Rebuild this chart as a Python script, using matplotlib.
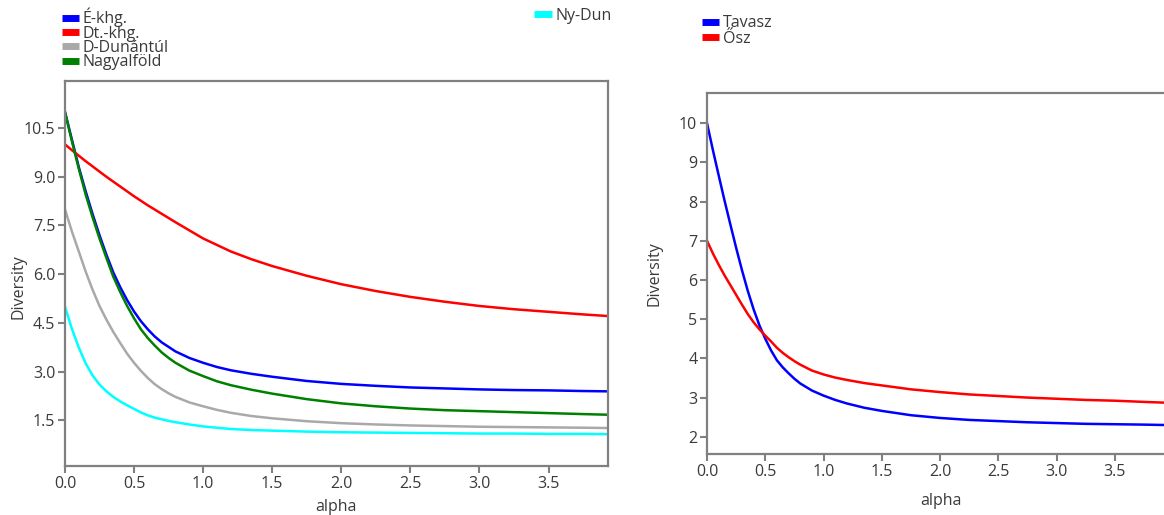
import matplotlib
matplotlib.use("Agg")
import matplotlib.pyplot as plt
from matplotlib.lines import Line2D

plt.rcParams["font.family"] = ["Open Sans", "DejaVu Sans"]

# ---------- data ----------
alpha = [0, 0.05, 0.1, 0.15, 0.2, 0.25, 0.3, 0.35, 0.4, 0.45, 0.5, 0.55, 0.6, 0.65,
         0.7, 0.75, 0.8, 0.9, 1.0, 1.1, 1.2, 1.35, 1.5, 1.75, 2.0, 2.25, 2.5, 2.75,
         3.0, 3.25, 3.5, 3.75, 3.93]

e_khg = [11.0, 10.15, 9.3, 8.55, 7.85, 7.2, 6.6, 6.05, 5.6, 5.2, 4.85, 4.55, 4.3, 4.08,
         3.9, 3.76, 3.62, 3.42, 3.27, 3.14, 3.04, 2.93, 2.84, 2.71, 2.62, 2.56, 2.51, 2.48,
         2.45, 2.43, 2.42, 2.40, 2.39]
dt_khg = [10.0, 9.82, 9.65, 9.48, 9.32, 9.16, 9.0, 8.85, 8.7, 8.55, 8.4, 8.26, 8.12, 7.99,
          7.86, 7.73, 7.6, 7.35, 7.1, 6.9, 6.7, 6.46, 6.25, 5.95, 5.69, 5.48, 5.3, 5.15,
          5.02, 4.92, 4.84, 4.76, 4.71]
d_dunantul = [8.0, 7.32, 6.7, 6.08, 5.52, 5.02, 4.6, 4.22, 3.88, 3.55, 3.27, 3.02, 2.8, 2.61,
              2.46, 2.33, 2.22, 2.05, 1.93, 1.82, 1.73, 1.63, 1.56, 1.47, 1.41, 1.37, 1.34,
              1.32, 1.30, 1.29, 1.28, 1.27, 1.26]
nagyalfold = [11.0, 10.1, 9.25, 8.45, 7.75, 7.1, 6.5, 5.92, 5.45, 5.02, 4.64, 4.3, 4.03, 3.8,
              3.59, 3.42, 3.27, 3.03, 2.86, 2.7, 2.58, 2.44, 2.32, 2.15, 2.02, 1.93, 1.86,
              1.81, 1.78, 1.75, 1.72, 1.69, 1.67]
ny_dun = [5.0, 4.32, 3.74, 3.25, 2.88, 2.6, 2.39, 2.22, 2.08, 1.96, 1.85, 1.74, 1.65, 1.58,
          1.53, 1.48, 1.44, 1.37, 1.31, 1.27, 1.23, 1.2, 1.18, 1.15, 1.13, 1.12, 1.11, 1.10,
          1.09, 1.09, 1.08, 1.08, 1.07]

tavasz = [10.0, 9.32, 8.67, 8.03, 7.42, 6.82, 6.25, 5.72, 5.25, 4.84, 4.5, 4.2, 3.95, 3.77,
          3.62, 3.48, 3.36, 3.18, 3.05, 2.94, 2.85, 2.74, 2.66, 2.55, 2.48, 2.43, 2.40, 2.37,
          2.35, 2.33, 2.32, 2.31, 2.30]
osz = [7.0, 6.68, 6.39, 6.12, 5.87, 5.62, 5.37, 5.13, 4.92, 4.74, 4.58, 4.43, 4.27, 4.14,
       4.03, 3.93, 3.84, 3.69, 3.59, 3.51, 3.45, 3.37, 3.31, 3.21, 3.14, 3.08, 3.04, 3.0,
       2.97, 2.94, 2.92, 2.89, 2.87]

left_series = [("É-khg.", e_khg, "#0000ff"),
               ("Dt.-khg.", dt_khg, "#ff0000"),
               ("D-Dunántúl", d_dunantul, "#a9a9a9"),
               ("Nagyalföld", nagyalfold, "#008000"),
               ("Ny-Dun", ny_dun, "#00ffff")]
right_series = [("Tavasz", tavasz, "#0000ff"),
                ("Ősz", osz, "#ff0000")]

left_yticks = [1.5, 3.0, 4.5, 6.0, 7.5, 9.0, 10.5]
right_yticks = [2, 3, 4, 5, 6, 7, 8, 9, 10]
xticks = [0.0, 0.5, 1.0, 1.5, 2.0, 2.5, 3.0, 3.5]

SPINE = "#808080"
TXT = "#3a3a3a"

fig = plt.figure(figsize=(11.64, 5.15), dpi=100)
ax1 = fig.add_axes([0.0558, 0.0951, 0.4665, 0.7476])
ax2 = fig.add_axes([0.6074, 0.1184, 0.3935, 0.701])


def style(ax, yticks, ylim, yfmt):
    for s in ax.spines.values():
        s.set_color(SPINE)
        s.set_linewidth(1.6)
    ax.set_xlim(0, 3.93)
    ax.set_ylim(*ylim)
    ax.set_xticks(xticks)
    ax.set_xticklabels([f"{v:.1f}" for v in xticks])
    ax.set_yticks(yticks)
    ax.set_yticklabels([yfmt.format(v) for v in yticks])
    ax.tick_params(direction="out", length=5, width=1.5, color=SPINE,
                   labelcolor=TXT, labelsize=11.5, pad=2)
    ax.set_xlabel("alpha", fontsize=11.5, color=TXT)
    ax.set_ylabel("Diversity", fontsize=11.5, color=TXT)


for name, vals, col in left_series:
    ax1.plot(alpha, vals, color=col, lw=1.8, label=name)
style(ax1, left_yticks, (0.09, 11.95), "{:.1f}")
ax1.yaxis.set_label_coords(-0.07, 0.465)
ax1.xaxis.set_label_coords(0.499, -0.085)

for name, vals, col in right_series:
    ax2.plot(alpha, vals, color=col, lw=1.8, label=name)
style(ax2, right_yticks, (1.56, 10.77), "{:d}")
ax2.spines["right"].set_visible(False)
ax2.yaxis.set_label_coords(-0.098, 0.5)
ax2.xaxis.set_label_coords(0.51, -0.108)


def handles(series):
    return [Line2D([], [], color=c, lw=5, solid_capstyle="butt") for _, _, c in series]


leg_kw = dict(frameon=False, fontsize=11.5, handlelength=1.1, handletextpad=0.2,
              borderpad=0, borderaxespad=0, labelcolor=TXT)
h = handles(left_series)
fig.legend(h[:4], [s[0] for s in left_series[:4]], loc="upper left",
           bbox_to_anchor=(0.053, 0.985), labelspacing=-0.1, **leg_kw)
fig.legend(h[4:], [s[0] for s in left_series[4:]], loc="upper left",
           bbox_to_anchor=(0.459, 0.985), labelspacing=-0.1, **leg_kw)
fig.legend(handles(right_series), [s[0] for s in right_series], loc="upper left",
           bbox_to_anchor=(0.603, 0.97), labelspacing=-0.05, **leg_kw)

fig.savefig("out.png", dpi=100)
